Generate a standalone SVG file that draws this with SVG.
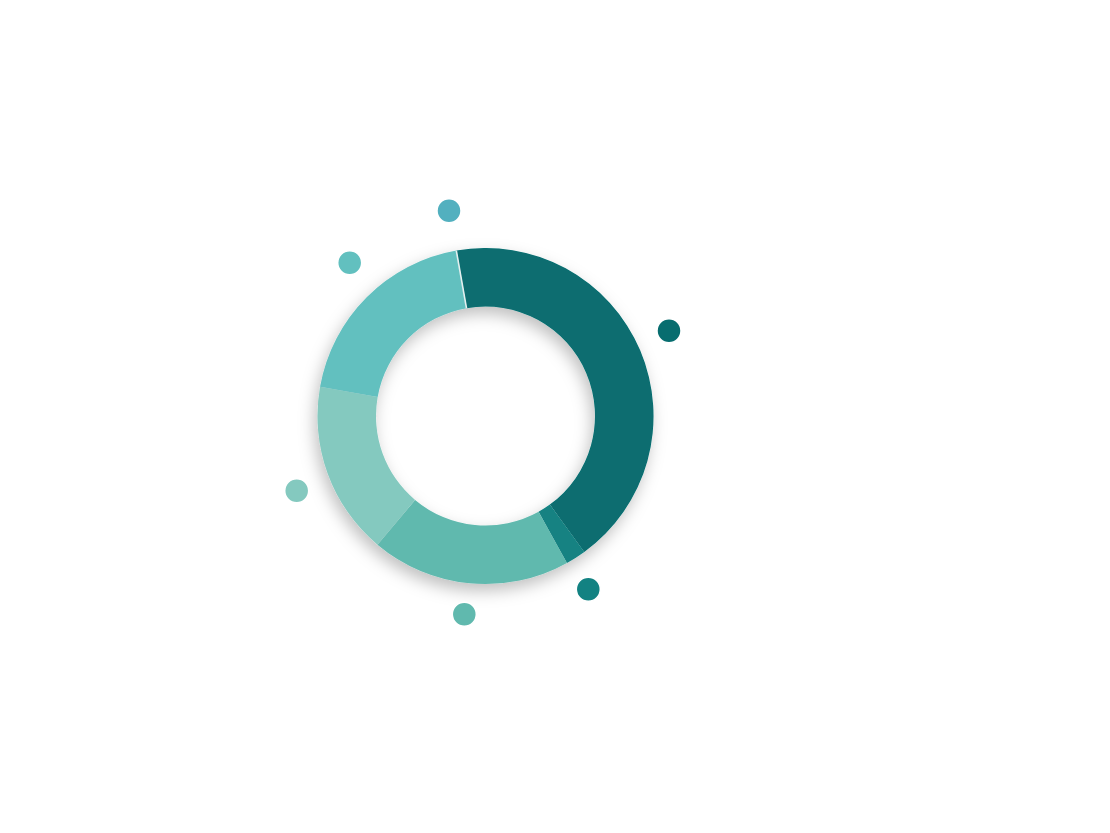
<svg xmlns="http://www.w3.org/2000/svg" width="1110" height="833" viewBox="0 0 1110 833">
  <defs>
    <filter id="shadow" x="-30%" y="-30%" width="160%" height="160%">
      <feDropShadow dx="-3" dy="7" stdDeviation="8" flood-color="#000" flood-opacity="0.25"/>
    </filter>
  </defs>
  <style>
    .dot { stroke: #ffffff; stroke-width: 1.5; }
  </style>
  <rect width="1110" height="833" fill="#ffffff"/>
  <g id="donut" filter="url(#shadow)">
    <path id="seg-dark" fill="#076d6f" d="M456.33,250.55 A168,168 0 0 1 584.25,551.92 L549.86,504.59 A109.5,109.5 0 0 0 466.49,308.16 Z"/>
    <path id="seg-mid" fill="#128282" d="M584.25,551.92 A168,168 0 0 1 566.95,562.94 L538.59,511.77 A109.5,109.5 0 0 0 549.86,504.59 Z"/>
    <path id="seg-green" fill="#60b9ae" d="M566.95,562.94 A168,168 0 0 1 377.51,544.70 L415.11,499.88 A109.5,109.5 0 0 0 538.59,511.77 Z"/>
    <path id="seg-pale" fill="#84c9bf" d="M377.51,544.70 A168,168 0 0 1 320.05,386.83 L377.66,396.99 A109.5,109.5 0 0 0 415.11,499.88 Z"/>
    <path id="seg-teal" fill="#62c0bf" d="M320.05,386.83 A168,168 0 0 1 456.33,250.55 L466.49,308.16 A109.5,109.5 0 0 0 377.66,396.99 Z"/>
    <line id="seg-sliver" x1="456.33" y1="250.55" x2="466.49" y2="308.16" stroke="#e4efef" stroke-width="1.6"/>
  </g>
  <g id="dots">
    <circle id="dot-1" class="dot" cx="669" cy="330.7" r="12" fill="#076d6f"/>
    <circle id="dot-2" class="dot" cx="588.3" cy="589.3" r="12" fill="#128282"/>
    <circle id="dot-3" class="dot" cx="464.3" cy="614.3" r="12" fill="#60b9ae"/>
    <circle id="dot-4" class="dot" cx="296.7" cy="490.7" r="12" fill="#84c9bf"/>
    <circle id="dot-5" class="dot" cx="349.7" cy="262.7" r="12" fill="#62c0bf"/>
    <circle id="dot-6" class="dot" cx="449" cy="210.7" r="12" fill="#52b0bf"/>
  </g>
  <g id="connectors"/>
</svg>
